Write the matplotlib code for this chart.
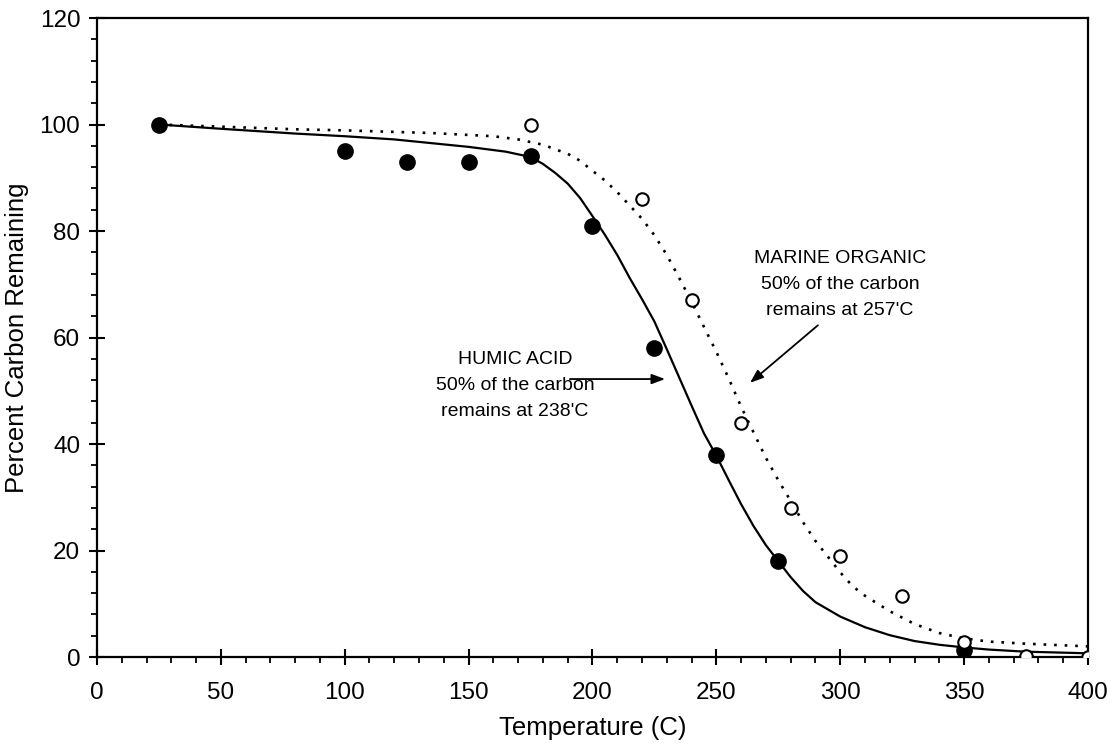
import numpy as np
import matplotlib
matplotlib.use('Agg')
import matplotlib.pyplot as plt
from matplotlib.ticker import MultipleLocator

plt.rcParams['font.family'] = ['Liberation Sans', 'DejaVu Sans']

# measured points
humic_t = [25, 100, 125, 150, 175, 200, 225, 250, 275, 350]
humic_c = [100, 95, 93, 93, 94, 81, 58, 38, 18, 1.3]
marine_t = [175, 220, 240, 260, 280, 300, 325, 350, 375, 400]
marine_c = [100, 86, 67, 44, 28, 19, 11.5, 2.8, 0.2, 0]

# fitted curves
humic_fit_t = [25, 50, 80, 100, 120, 150, 165, 175, 180, 185, 190, 195, 200, 205, 210,
               215, 220, 225, 230, 235, 240, 245, 250, 255, 260, 265, 270, 275, 280,
               285, 290, 300, 310, 320, 330, 340, 350, 360, 375, 400]
humic_fit_c = [100, 99.2, 98.3, 97.8, 97.2, 95.8, 94.9, 93.9, 92.6, 90.9, 88.9, 86.2,
               82.8, 79.3, 75.5, 71.2, 67.2, 63, 57.8, 52.5, 47.2, 42, 37.8, 33.2,
               28.7, 24.6, 21, 18, 15, 12.4, 10.3, 7.6, 5.6, 4.1, 3.0, 2.3, 1.8, 1.4,
               1.0, 0.7]
marine_fit_t = [25, 50, 80, 100, 135, 160, 170, 180, 190, 195, 200, 205, 210, 215,
                220, 225, 230, 235, 240, 245, 250, 255, 260, 265, 270, 275, 280,
                285, 290, 300, 305, 310, 320, 330, 340, 350, 360, 375, 400]
marine_fit_c = [100, 99.6, 99.1, 98.9, 98.4, 97.8, 97.2, 96.2, 94.5, 93.2, 91.3, 89.5,
                87.3, 84.8, 82.3, 79.2, 75.5, 71.2, 66.7, 62, 57.3, 52.3, 47, 42.2,
                37.4, 33.2, 29.3, 25.3, 21.8, 15.9, 13.3, 11.5, 8.6, 6.2, 4.5, 3.5,
                2.9, 2.5, 2.0]

fig = plt.figure(figsize=(11.12, 7.44), dpi=100)
ax = fig.add_axes([0.0872, 0.1169, 0.8912, 0.8589])

ax.plot(humic_fit_t, humic_fit_c, color='black', lw=1.6, zorder=2)
ax.plot(marine_fit_t, marine_fit_c, color='black', lw=1.9, ls=(0, (1, 3)), zorder=2)
ax.plot(humic_t, humic_c, 'o', color='black', ms=11, zorder=3)
ax.plot(marine_t, marine_c, 'o', mfc='white', mec='black', mew=1.5, ms=9, zorder=3)

ax.set_xlim(0, 400)
ax.set_ylim(0, 120)
ax.xaxis.set_major_locator(MultipleLocator(50))
ax.xaxis.set_minor_locator(MultipleLocator(10))
ax.yaxis.set_major_locator(MultipleLocator(20))
ax.yaxis.set_minor_locator(MultipleLocator(4))
ax.tick_params(which='major', direction='inout', length=12, width=1.5, labelsize=17.5)
ax.tick_params(axis='x', which='major', pad=12)
ax.tick_params(axis='y', which='major', pad=6)
ax.tick_params(which='minor', direction='out', length=4.5, width=1.3)
for s in ax.spines.values():
    s.set_linewidth(1.6)

ax.set_xlabel('Temperature (C)', fontsize=18.5)
ax.set_ylabel('Percent Carbon Remaining', fontsize=18.5)
ax.xaxis.set_label_coords(0.5, -0.093)
ax.yaxis.set_label_coords(-0.069, 0.5)

arrow = dict(arrowstyle='-|>,head_length=0.8,head_width=0.3', color='black', lw=1.3,
             shrinkA=0, shrinkB=0)
ax.text(168.7, 51.0, "HUMIC ACID\n50% of the carbon\nremains at 238'C",
        ha='center', va='center', fontsize=14, linespacing=1.7)
ax.annotate('', xy=(229.3, 52.2), xytext=(190.9, 52.2), arrowprops=arrow)
ax.text(299.9, 70.0, "MARINE ORGANIC\n50% of the carbon\nremains at 257'C",
        ha='center', va='center', fontsize=14, linespacing=1.7)
ax.annotate('', xy=(263.6, 51.5), xytext=(291, 62.3), arrowprops=arrow)

fig.savefig('out.png', dpi=100)
